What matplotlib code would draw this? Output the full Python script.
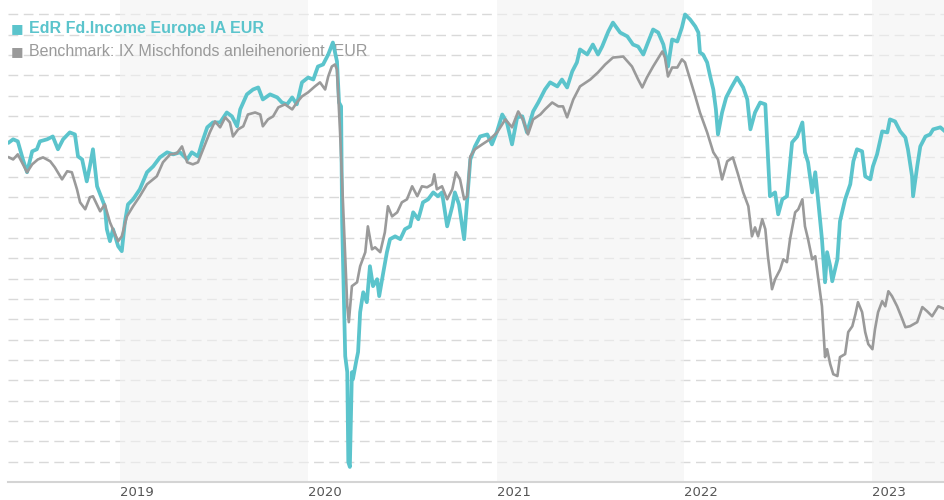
import matplotlib
matplotlib.use("Agg")
import matplotlib.pyplot as plt
import matplotlib.dates as mdates
import pandas as pd

# fund series (values in grid steps)
fund_dates = [
    "2018-05-30", "2018-06-07", "2018-06-16", "2018-06-26", "2018-07-04", "2018-07-14", "2018-07-23",
    "2018-07-29", "2018-08-12", "2018-08-23", "2018-09-02", "2018-09-12", "2018-09-25", "2018-10-05",
    "2018-10-11", "2018-10-19", "2018-10-28", "2018-11-03", "2018-11-09", "2018-11-17", "2018-11-23",
    "2018-12-02", "2018-12-06", "2018-12-12", "2018-12-18", "2018-12-28", "2019-01-04", "2019-01-10",
    "2019-01-16", "2019-01-26", "2019-02-08", "2019-02-22", "2019-03-06", "2019-03-19", "2019-04-02",
    "2019-04-14", "2019-04-27", "2019-05-11", "2019-05-20", "2019-06-01", "2019-06-09", "2019-06-19",
    "2019-06-30", "2019-07-14", "2019-07-27", "2019-08-06", "2019-08-16", "2019-08-22", "2019-09-04",
    "2019-09-16", "2019-09-26", "2019-10-05", "2019-10-19", "2019-11-02", "2019-11-11", "2019-11-21",
    "2019-12-01", "2019-12-10", "2019-12-20", "2020-01-01", "2020-01-11", "2020-01-20", "2020-01-30",
    "2020-02-09", "2020-02-18", "2020-02-26", "2020-03-01", "2020-03-05", "2020-03-07", "2020-03-13",
    "2020-03-17", "2020-03-19", "2020-03-22", "2020-03-26", "2020-03-28", "2020-04-03", "2020-04-07",
    "2020-04-11", "2020-04-17", "2020-04-24", "2020-04-30", "2020-05-06", "2020-05-14", "2020-05-18",
    "2020-05-26", "2020-06-02", "2020-06-08", "2020-06-18", "2020-06-28", "2020-07-07", "2020-07-17",
    "2020-07-23", "2020-08-02", "2020-08-11", "2020-08-21", "2020-08-31", "2020-09-09", "2020-09-17",
    "2020-09-27", "2020-10-07", "2020-10-12", "2020-10-20", "2020-10-30", "2020-11-05", "2020-11-11",
    "2020-11-20", "2020-11-30", "2020-12-14", "2020-12-23", "2021-01-02", "2021-01-12", "2021-01-21",
    "2021-01-31", "2021-02-10", "2021-02-20", "2021-03-01", "2021-03-13", "2021-03-23", "2021-04-05",
    "2021-04-15", "2021-04-29", "2021-05-08", "2021-05-18", "2021-05-28", "2021-06-06", "2021-06-12",
    "2021-06-26", "2021-07-07", "2021-07-17", "2021-07-25", "2021-08-06", "2021-08-15", "2021-08-29",
    "2021-09-12", "2021-09-23", "2021-10-03", "2021-10-13", "2021-10-22", "2021-11-01", "2021-11-11",
    "2021-11-21", "2021-11-30", "2021-12-08", "2021-12-18", "2021-12-27", "2022-01-02", "2022-01-12",
    "2022-01-22", "2022-01-28", "2022-01-31", "2022-02-06", "2022-02-14", "2022-02-20", "2022-02-26",
    "2022-03-03", "2022-03-07", "2022-03-15", "2022-03-23", "2022-04-02", "2022-04-13", "2022-04-25",
    "2022-05-03", "2022-05-09", "2022-05-18", "2022-05-28", "2022-06-07", "2022-06-16", "2022-06-26",
    "2022-07-02", "2022-07-10", "2022-07-19", "2022-07-29", "2022-08-08", "2022-08-18", "2022-08-23",
    "2022-08-29", "2022-09-06", "2022-09-12", "2022-09-18", "2022-09-25", "2022-10-01", "2022-10-05",
    "2022-10-11", "2022-10-15", "2022-10-25", "2022-10-30", "2022-11-09", "2022-11-19", "2022-11-25",
    "2022-12-02", "2022-12-12", "2022-12-18", "2022-12-28", "2023-01-02", "2023-01-10", "2023-01-20",
    "2023-01-30", "2023-02-04", "2023-02-14", "2023-02-24", "2023-03-06", "2023-03-11", "2023-03-19",
    "2023-03-21", "2023-03-29", "2023-04-04", "2023-04-14", "2023-04-23", "2023-04-29", "2023-05-13",
    "2023-05-22",
]
fund_values = [
    16.70, 16.85, 16.75, 15.86, 15.23, 16.26, 16.36,
    16.75, 16.85, 16.99, 16.36, 16.85, 17.19, 17.09,
    16.01, 15.86, 14.78, 15.52, 16.36, 14.54, 14.15,
    13.56, 12.43, 11.84, 12.43, 11.59, 11.35, 12.77,
    13.65, 13.90, 14.39, 15.23, 15.52, 15.96, 16.21,
    16.11, 16.21, 15.86, 16.21, 16.01, 16.70, 17.44,
    17.68, 17.68, 18.17, 17.98, 17.49, 18.32, 19.06,
    19.30, 19.40, 18.81, 19.06, 18.91, 18.66, 18.57,
    18.91, 18.57, 19.65, 19.89, 19.79, 20.43, 20.53,
    21.02, 21.61, 20.68, 18.66, 18.47, 12.77, 6.19,
    5.40, 0.98, 0.74, 5.40, 5.06, 5.89, 6.39,
    8.35, 9.33, 8.84, 10.61, 9.63, 9.97, 9.14,
    10.31, 11.30, 11.94, 12.08, 11.94, 12.43, 12.57,
    13.26, 12.92, 13.75, 13.90, 14.24, 14.05, 14.24,
    12.57, 13.56, 14.24, 13.65, 11.94, 13.90, 15.86,
    16.50, 16.99, 17.09, 16.60, 17.24, 18.07, 17.68,
    16.60, 17.93, 17.98, 17.19, 18.22, 18.66, 19.30,
    19.65, 19.45, 19.79, 19.40, 20.19, 20.63, 21.27,
    21.02, 21.51, 21.02, 21.41, 22.15, 22.59, 22.10,
    21.91, 21.51, 21.41, 21.02, 21.61, 22.25, 22.10,
    21.51, 20.43, 21.76, 21.66, 22.35, 22.99, 22.74,
    22.40, 22.10, 21.12, 21.02, 20.63, 19.94, 19.30,
    18.32, 17.09, 18.17, 18.91, 19.40, 19.89, 19.40,
    18.81, 17.34, 18.17, 18.66, 18.57, 14.05, 14.24,
    13.16, 13.90, 14.05, 16.70, 16.99, 17.68, 16.21,
    15.72, 14.24, 15.23, 13.75, 11.94, 9.82, 11.30,
    10.61, 9.87, 10.95, 12.82, 13.90, 14.64, 15.77,
    16.36, 16.26, 15.03, 14.88, 15.52, 16.11, 17.24,
    17.19, 17.83, 17.73, 17.24, 16.94, 16.36, 15.03,
    14.05, 15.52, 16.50, 16.99, 17.09, 17.34, 17.44,
    17.24,
]

# benchmark series
bench_dates = [
    "2018-05-30", "2018-06-07", "2018-06-16", "2018-06-24", "2018-07-04", "2018-07-14", "2018-07-25",
    "2018-08-04", "2018-08-18", "2018-08-27", "2018-09-10", "2018-09-20", "2018-09-29", "2018-10-09",
    "2018-10-15", "2018-10-25", "2018-11-03", "2018-11-09", "2018-11-23", "2018-12-02", "2018-12-12",
    "2018-12-22", "2018-12-28", "2019-01-04", "2019-01-14", "2019-01-26", "2019-02-08", "2019-02-22",
    "2019-03-13", "2019-03-25", "2019-04-08", "2019-04-21", "2019-05-01", "2019-05-11", "2019-05-22",
    "2019-06-01", "2019-06-11", "2019-06-24", "2019-07-04", "2019-07-14", "2019-07-24", "2019-08-02",
    "2019-08-08", "2019-08-18", "2019-08-28", "2019-09-06", "2019-09-20", "2019-09-30", "2019-10-05",
    "2019-10-15", "2019-10-25", "2019-11-04", "2019-11-17", "2019-12-01", "2019-12-10", "2019-12-20",
    "2020-01-01", "2020-01-14", "2020-01-24", "2020-02-03", "2020-02-09", "2020-02-16", "2020-02-22",
    "2020-02-26", "2020-03-03", "2020-03-09", "2020-03-17", "2020-03-20", "2020-03-26", "2020-04-05",
    "2020-04-11", "2020-04-21", "2020-04-26", "2020-05-04", "2020-05-10", "2020-05-20", "2020-05-29",
    "2020-06-04", "2020-06-12", "2020-06-22", "2020-07-01", "2020-07-11", "2020-07-21", "2020-07-31",
    "2020-08-09", "2020-08-19", "2020-08-29", "2020-09-02", "2020-09-07", "2020-09-17", "2020-09-27",
    "2020-10-07", "2020-10-14", "2020-10-22", "2020-10-30", "2020-11-05", "2020-11-11", "2020-11-20",
    "2020-12-04", "2020-12-19", "2021-01-02", "2021-01-18", "2021-01-31", "2021-02-12", "2021-02-21",
    "2021-03-03", "2021-03-13", "2021-03-27", "2021-04-05", "2021-04-19", "2021-05-01", "2021-05-10",
    "2021-05-18", "2021-05-30", "2021-06-12", "2021-07-02", "2021-07-17", "2021-07-31", "2021-08-15",
    "2021-09-04", "2021-09-21", "2021-10-03", "2021-10-11", "2021-10-20", "2021-11-01", "2021-11-19",
    "2021-11-24", "2021-11-30", "2021-12-08", "2021-12-18", "2021-12-27", "2022-01-02", "2022-01-12",
    "2022-01-22", "2022-01-31", "2022-02-14", "2022-02-26", "2022-03-07", "2022-03-15", "2022-03-25",
    "2022-04-05", "2022-04-15", "2022-04-25", "2022-05-05", "2022-05-12", "2022-05-18", "2022-05-24",
    "2022-06-01", "2022-06-07", "2022-06-12", "2022-06-20", "2022-06-26", "2022-07-06", "2022-07-12",
    "2022-07-19", "2022-07-25", "2022-08-04", "2022-08-10", "2022-08-18", "2022-08-23", "2022-08-29",
    "2022-09-06", "2022-09-12", "2022-09-18", "2022-09-25", "2022-10-01", "2022-10-05", "2022-10-11",
    "2022-10-17", "2022-10-25", "2022-10-30", "2022-11-09", "2022-11-15", "2022-11-23", "2022-11-29",
    "2022-12-04", "2022-12-12", "2022-12-18", "2022-12-24", "2023-01-01", "2023-01-06", "2023-01-12",
    "2023-01-20", "2023-01-26", "2023-02-01", "2023-02-08", "2023-02-18", "2023-02-28", "2023-03-06",
    "2023-03-15", "2023-03-29", "2023-04-08", "2023-04-17", "2023-04-27", "2023-05-09", "2023-05-22",
]
bench_values = [
    15.96, 15.86, 16.11, 15.72, 15.23, 15.62, 15.86,
    15.96, 15.77, 15.47, 14.88, 15.28, 15.23, 14.39,
    13.75, 13.41, 14.00, 14.05, 13.31, 13.65, 12.77,
    12.18, 11.84, 12.08, 13.06, 13.56, 14.05, 14.64,
    15.03, 15.72, 16.11, 16.16, 16.50, 15.72, 15.62,
    15.72, 16.36, 17.19, 17.73, 17.44, 17.93, 17.68,
    16.99, 17.34, 17.49, 18.07, 18.17, 18.07, 17.49,
    17.83, 17.98, 18.42, 18.57, 18.32, 18.66, 18.96,
    19.16, 19.45, 19.65, 19.30, 19.94, 20.43, 20.53,
    20.28, 17.19, 13.56, 8.64, 7.86, 9.63, 9.82,
    10.61, 11.30, 12.57, 11.44, 11.54, 11.30, 12.28,
    13.56, 13.06, 13.26, 13.75, 13.90, 14.54, 14.05,
    14.54, 14.49, 14.64, 15.13, 14.39, 14.54, 13.90,
    14.39, 15.23, 14.88, 13.90, 14.05, 16.01, 16.36,
    16.60, 16.85, 17.19, 17.83, 17.44, 18.22, 17.83,
    17.09, 17.83, 18.07, 18.32, 18.66, 18.47, 18.47,
    17.93, 18.81, 19.45, 19.79, 20.14, 20.53, 20.87,
    20.92, 20.43, 19.79, 19.40, 19.89, 20.43, 21.17,
    20.87, 19.94, 20.38, 20.38, 20.78, 20.63, 19.79,
    18.96, 18.17, 17.19, 16.21, 15.86, 14.88, 15.77,
    15.96, 15.13, 14.24, 13.56, 12.08, 12.52, 12.08,
    12.92, 12.43, 11.10, 9.48, 9.97, 10.46, 10.95,
    10.81, 11.94, 13.26, 13.41, 13.90, 12.57, 11.94,
    10.95, 11.10, 9.97, 8.64, 6.14, 6.53, 5.80,
    5.30, 5.21, 6.14, 6.29, 7.37, 7.66, 8.25,
    8.84, 8.35, 7.37, 6.78, 6.53, 7.51, 8.35,
    8.89, 8.64, 9.38, 9.14, 8.64, 8.01, 7.61,
    7.66, 7.86, 8.60, 8.40, 8.15, 8.64, 8.50,
]

fund_name = "EdR Fd.Income Europe IA EUR"
bench_name = "Benchmark: IX Mischfonds anleihenorient. EUR"
years = [2019, 2020, 2021, 2022, 2023]
shaded_years = [2019, 2021, 2023]

teal = "#5bc4cc"
grey = "#9a9a9a"

fund = pd.Series(fund_values, index=pd.to_datetime(fund_dates))
bench = pd.Series(bench_values, index=pd.to_datetime(bench_dates))

fig = plt.figure(figsize=(9.45, 5.0), dpi=100)
ax = fig.add_axes([8 / 945, 18 / 500, 937 / 945, 482 / 500])

x_start = pd.Timestamp("2018-05-28")
x_end = pd.Timestamp("2023-05-22")

# horizontal dashed grid
ax.set_yticks(range(1, 24))
ax.yaxis.grid(True, color="#d9d9d9", linewidth=1.0, linestyle=(0, (7, 4)), zorder=0)
ax.set_axisbelow(True)

# alternating year bands, lying over the grid so it fades inside them
for y in shaded_years:
    band_end = min(pd.Timestamp(f"{y + 1}-01-01"), x_end)
    ax.axvspan(pd.Timestamp(f"{y}-01-01"), band_end, color="#f2f2f2", alpha=0.6, lw=0, zorder=1)

ax.plot(fund.index, fund.values, color=teal, lw=2.7, zorder=4, solid_joinstyle="round")
ax.plot(bench.index, bench.values, color=grey, lw=1.9, zorder=5, solid_joinstyle="round")

ax.set_xlim(x_start, x_end)
ax.set_ylim(0, 23.7)

for side in ["top", "right", "left"]:
    ax.spines[side].set_visible(False)
ax.spines["bottom"].set_color("#d4d4d4")
ax.spines["bottom"].set_linewidth(1.5)
ax.spines["bottom"].set_zorder(2)

ax.set_xticks([pd.Timestamp(f"{y}-01-01") for y in years])
ax.xaxis.set_major_formatter(mdates.DateFormatter("%Y"))
ax.tick_params(axis="x", length=0, pad=3, labelsize=9.5, labelcolor="#555555")
ax.tick_params(axis="y", length=0, labelleft=False)
for lab in ax.get_xticklabels():
    lab.set_ha("left")

# legend as text at top left
fam = ["Liberation Sans", "DejaVu Sans"]
ax.text(11 / 945, 1 - 29 / 500, "\u25a0", transform=fig.transFigure, color=teal,
        fontsize=9.5, va="center", ha="left", family="DejaVu Sans", zorder=3)
ax.text(29 / 945, 1 - 29 / 500, fund_name, transform=fig.transFigure, color=teal,
        fontsize=11.5, weight="bold", va="center", ha="left", family=fam, zorder=3)
ax.text(11 / 945, 1 - 52 / 500, "\u25a0", transform=fig.transFigure, color=grey,
        fontsize=9.5, va="center", ha="left", family="DejaVu Sans", zorder=3)
ax.text(29 / 945, 1 - 52 / 500, bench_name, transform=fig.transFigure, color=grey,
        fontsize=11.5, va="center", ha="left", family=fam, zorder=3)

fig.savefig("out.png", dpi=100)
